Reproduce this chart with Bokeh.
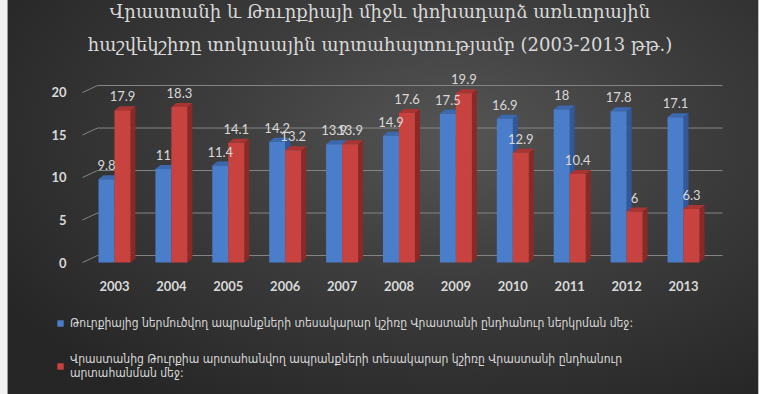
from bokeh.plotting import figure
from bokeh.models import Range1d, FixedTicker, Title, Legend, LegendItem
from bokeh.core.properties import value
from bokeh.embed import file_html
from bokeh.resources import INLINE

years = ["2003", "2004", "2005", "2006", "2007", "2008", "2009", "2010", "2011", "2012", "2013"]
imports_share = [9.8, 11, 11.4, 14.2, 13.9, 14.9, 17.5, 16.9, 18, 17.8, 17.1]
exports_share = [17.9, 18.3, 14.1, 13.2, 13.9, 17.6, 19.9, 12.9, 10.4, 6, 6.3]
y_ticks = [0, 5, 10, 15, 20]

title_line1 = "Վրաստանի և Թուրքիայի միջև փոխադարձ առևտրային"
title_line2 = "հաշվեկշիռը տոկոսային արտահայտությամբ (2003-2013 թթ.)"
legend_imports = "Թուրքիայից ներմուծվող ապրանքների տեսակարար կշիռը Վրաստանի ընդհանուր ներկրման մեջ:"
legend_exports = "Վրաստանից Թուրքիա արտահանվող ապրանքների տեսակարար կշիռը Վրաստանի ընդհանուր\nարտահանման մեջ:"

# style constants
BW = 0.281      # bar width (category units)
DX = 0.088      # 3D depth in x
DY = 0.47       # 3D depth in y
WALL_DY = 0.82  # back wall offset
TXT = "#d9d9d9"

p = figure(width=759, height=394, output_backend="svg", toolbar_location=None,
           x_range=Range1d(-2.0035, 11.3357), y_range=Range1d(-15.529, 22.588),
           min_border_left=0, min_border_right=0, min_border_top=70, min_border_bottom=0)
p.styles = {"background": "linear-gradient(to right, #f2f2f2 0px, #f2f2f2 7px, #9a9a9a 7px, #9a9a9a 8px, transparent 8px), "
                          "linear-gradient(to left, #bdbdbd 0px, #bdbdbd 1px, transparent 1px), "
                          "radial-gradient(ellipse 70% 80% at 60% 35%, #555555 0%, #3d3d3d 45%, #262626 100%)"}
p.border_fill_color = None
p.background_fill_color = None
p.outline_line_color = None
p.xgrid.visible = False
p.ygrid.visible = False

# back wall grid lines with perspective slant
xl_front, xl_back, xr_back = -0.562, -0.299, 10.685
p.segment(x0=[xl_back] * len(y_ticks), y0=[v + WALL_DY for v in y_ticks],
          x1=[xr_back] * len(y_ticks), y1=[v + WALL_DY for v in y_ticks],
          line_color="#858585", line_width=1)
p.segment(x0=[xl_front] * len(y_ticks), y0=y_ticks,
          x1=[xl_back] * len(y_ticks), y1=[v + WALL_DY for v in y_ticks],
          line_color="#858585", line_width=1)

def bar_faces(vals, offset):
    front_x, front_y, side_x, side_y, top_x, top_y = [], [], [], [], [], []
    for i, v in enumerate(vals):
        x0 = i + offset
        x1 = x0 + BW
        front_x.append([x0, x1, x1, x0]); front_y.append([0, 0, v, v])
        side_x.append([x1, x1 + DX, x1 + DX, x1]); side_y.append([0, DY, v + DY, v])
        top_x.append([x0, x0 + DX, x1 + DX, x1]); top_y.append([v, v + DY, v + DY, v])
    return front_x, front_y, side_x, side_y, top_x, top_y

renderers = []
for vals, offset, cf, cs, ct in [(imports_share, -BW, "#4a7ecb", "#30589a", "#3b69b0"),
                                 (exports_share, 0.0, "#c8423f", "#8a2a27", "#a83532")]:
    fx, fy, sx, sy, tx, ty = bar_faces(vals, offset)
    p.patches(sx, sy, fill_color=cs, line_color=None)
    p.patches(tx, ty, fill_color=ct, line_color=None)
    r = p.patches(fx, fy, fill_color=cf, line_color=None)
    renderers.append(r)

# data labels
xs = list(range(len(years)))
p.text(x=[i - BW / 2 for i in xs], y=imports_share, text=[f"{v:g}" for v in imports_share],
       text_align="center", text_baseline="bottom", y_offset=-9,
       text_font=value("Lato"), text_font_size="13px", text_color=TXT)
p.text(x=[i + BW / 2 for i in xs], y=exports_share, text=[f"{v:g}" for v in exports_share],
       text_align="center", text_baseline="bottom", y_offset=-9,
       text_font=value("Lato"), text_font_size="13px", text_color=TXT)

# axes (fixed inside the frame so that the frame can hold the legend below)
p.xaxis.ticker = FixedTicker(ticks=xs)
p.xaxis.major_label_overrides = {i: y for i, y in enumerate(years)}
p.xaxis.fixed_location = -1.176
p.yaxis.ticker = FixedTicker(ticks=y_ticks)
p.yaxis.fixed_location = -0.5975
for ax in (p.xaxis[0], p.yaxis[0]):
    ax.axis_line_color = None
    ax.major_tick_line_color = None
    ax.minor_tick_line_color = None
    ax.major_tick_out = 0
    ax.minor_tick_out = 0
    ax.major_label_text_color = TXT
    ax.major_label_text_font = "Lato"
    ax.major_label_text_font_style = "bold"
    ax.major_label_text_font_size = "13px"
p.xaxis.major_label_standoff = 9
p.yaxis.major_label_standoff = 14

# titles (line 2 first: closer to the frame)
p.add_layout(Title(text=title_line2, align="center", text_font="DejaVu Serif", text_font_size="18px",
                   text_font_style="normal", text_color=TXT, standoff=32), "above")
p.add_layout(Title(text=title_line1, align="center", text_font="DejaVu Serif", text_font_size="18px",
                   text_font_style="normal", text_color=TXT, standoff=-13), "above")

legend = Legend(items=[LegendItem(label=legend_imports, renderers=[renderers[0]]),
                       LegendItem(label=legend_exports, renderers=[renderers[1]])],
                location=(56, 14), orientation="vertical",
                background_fill_alpha=0, border_line_color=None,
                label_text_color=TXT, label_text_font="DejaVu Sans Condensed", label_text_font_size="12px",
                label_text_line_height=1.5,
                glyph_width=8, glyph_height=8, label_standoff=6, spacing=22, padding=0, margin=0)
p.add_layout(legend)

open("out.html", "w").write(file_html(p, INLINE))
